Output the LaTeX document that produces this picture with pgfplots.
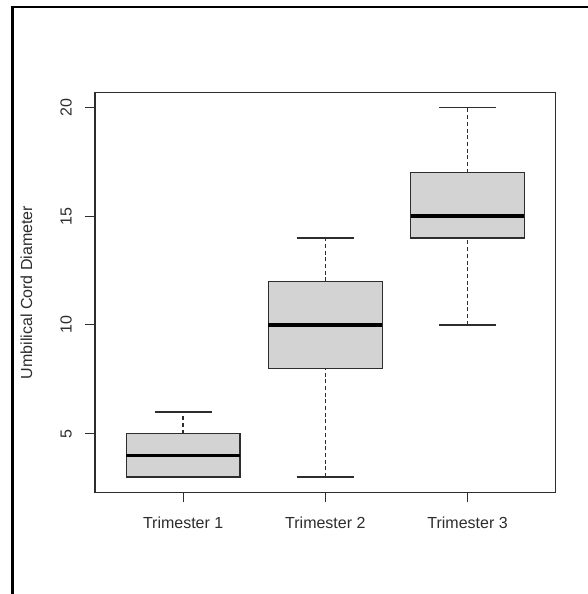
\documentclass[border=0pt]{standalone}
\usepackage{fontspec}
\setmainfont{Liberation Sans}
\usepackage{pgfplots}
\pgfplotsset{compat=1.18}
\definecolor{boxfill}{RGB}{211,211,211}
\definecolor{ink}{RGB}{45,45,45}
\begin{document}
\begin{tikzpicture}
\useasboundingbox (0pt,0pt) rectangle (587pt,594pt);
\fill[white] (0pt,0pt) rectangle (587pt,594pt);
\draw[black, line width=3pt] (12pt,-5pt) -- (12pt,588pt);
\draw[black, line width=2pt] (10.5pt,587pt) -- (592pt,587pt);
\begin{axis}[
  at={(95pt,101.7pt)}, anchor=south west,
  scale only axis, width=460.7pt, height=399.6pt,
  xmin=0.38, xmax=3.62, ymin=2.3, ymax=20.68,
  axis line style={ink, line width=1.2pt},
  xtick={1,2,3}, xticklabels={Trimester 1,Trimester 2,Trimester 3},
  ytick={5,10,15,20},
  tick align=outside, major tick length=10pt,
  tick style={ink, line width=1.2pt},
  xtick pos=bottom, ytick pos=left,
  /pgf/number format/assume math mode=true,
  tick label style={font=\fontsize{16}{19}\selectfont, text=ink},
  yticklabel style={rotate=90, anchor=south, inner sep=0pt},
  xticklabel style={anchor=north, inner sep=0pt},
  yticklabel shift=13pt,
  xticklabel shift=14pt,
  ylabel={Umbilical Cord Diameter},
  every axis y label/.style={at={(axis description cs:-0.1487,0.5)}, rotate=90, anchor=center, inner sep=0pt, font=\fontsize{16}{19}\selectfont, text=ink},
  boxstyle/.style={draw=ink, fill=boxfill, line width=1.2pt},
  medstyle/.style={black, line width=3.5pt},
  whisk/.style={ink, line width=1.5pt, dash pattern=on 4pt off 2.7pt},
  capstyle/.style={ink, line width=1.3pt},
]
% Trimester 1: min 3, Q1 3, median 4, Q3 5, max 6
\addplot[whisk] coordinates {(1,5) (1,6)};
\addplot[capstyle] coordinates {(0.8,6) (1.2,6)};
\addplot[boxstyle] coordinates {(0.6,3) (1.4,3) (1.4,5) (0.6,5)} -- cycle;
\addplot[medstyle] coordinates {(0.6,4) (1.4,4)};
\addplot[capstyle] coordinates {(0.8,3) (1.2,3)};
% Trimester 2: min 3, Q1 8, median 10, Q3 12, max 14
\addplot[whisk] coordinates {(2,12) (2,14)};
\addplot[whisk] coordinates {(2,3) (2,8)};
\addplot[capstyle] coordinates {(1.8,14) (2.2,14)};
\addplot[capstyle] coordinates {(1.8,3) (2.2,3)};
\addplot[boxstyle] coordinates {(1.6,8) (2.4,8) (2.4,12) (1.6,12)} -- cycle;
\addplot[medstyle] coordinates {(1.6,10) (2.4,10)};
% Trimester 3: min 10, Q1 14, median 15, Q3 17, max 20
\addplot[whisk] coordinates {(3,17) (3,20)};
\addplot[whisk] coordinates {(3,10) (3,14)};
\addplot[capstyle] coordinates {(2.8,20) (3.2,20)};
\addplot[capstyle] coordinates {(2.8,10) (3.2,10)};
\addplot[boxstyle] coordinates {(2.6,14) (3.4,14) (3.4,17) (2.6,17)} -- cycle;
\addplot[medstyle] coordinates {(2.6,15) (3.4,15)};
\end{axis}
\end{tikzpicture}
\end{document}
